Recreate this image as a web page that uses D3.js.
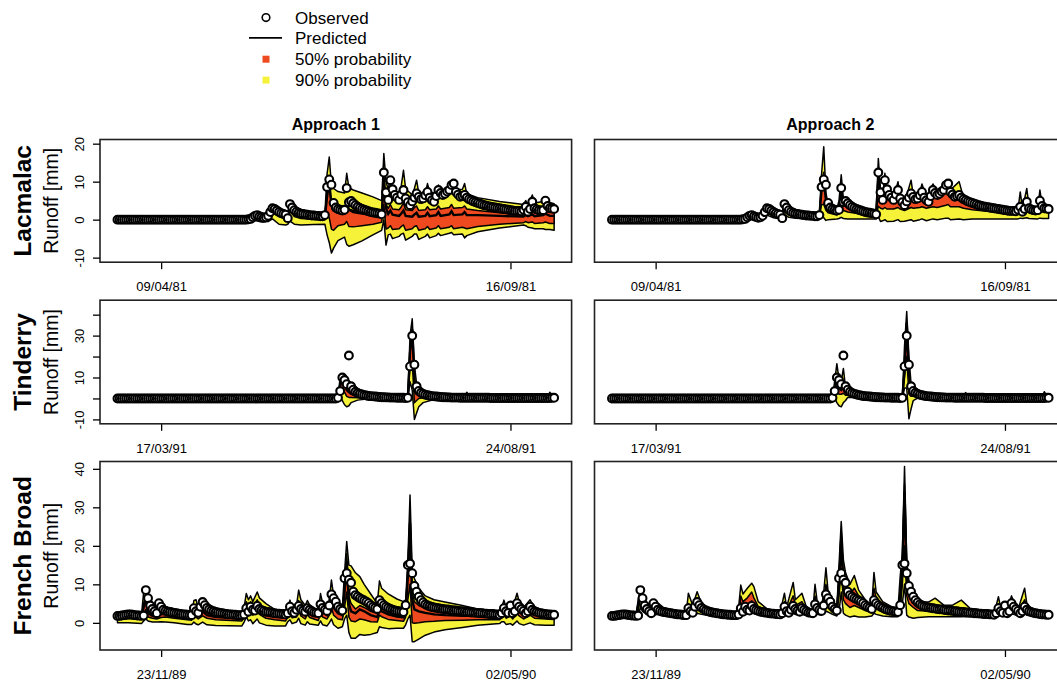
<!DOCTYPE html>
<html>
<head>
<meta charset="utf-8">
<script src="https://cdn.jsdelivr.net/npm/d3@7"></script>
<style>
body { margin: 0; background: #fff; }
svg { display: block; font-family: "Liberation Sans", Arial, Helvetica, sans-serif; }
</style>
</head>
<body>
<svg id="chart" width="1057" height="683"></svg>
<script>
const stations = ["Lacmalac", "Tinderry", "French Broad"];
const approaches = ["Approach 1", "Approach 2"];
const startDates = ["1981-03-20", "1991-02-25", "1989-11-03"];
const tickDays = [20, 180];
const yDomains = [[-11.2, 21.1], [-12.1, 46.9], [-7.05, 41.9]];
const yTickValues = [[-10, 0, 10, 20], [-10, 0, 10, 20, 30, 40], [0, 10, 20, 30, 40]];
const yTickShown = [[-10, 0, 10, 20], [-10, 10, 30], [0, 10, 20, 30, 40]];
const legendLabels = ["Observed", "Predicted", "50% probability", "90% probability"];

// observed daily runoff [mm], one value per day from the start date
const obsLacmalac = [
  0,0,0,0,0,0,0,0,0,0, 0,0,0,0,0,0,0,0,0,0, 0,0,0,0,0,0,0,0,0,0,
  0,0,0,0,0,0,0,0,0,0, 0,0,0,0,0,0,0,0,0,0, 0,0,0,0,0,0,0,0,0,0,
  0.1,0.2,0.6,1.0,1.2,0.9,0.7,0.5,0.6,1.0,
  2.0,3.0,2.8,2.4,2.0,1.7,1.5,1.3,0.4,4.1,
  3.2,2.5,2.1,1.8,1.6,1.5,1.4,1.3,1.2,1.1,
  1.1,1.0,1.0,0.9,0.9,1.2,8.6,10.6,9.2,4.4,
  3.2,2.8,2.6,2.4,2.6,8.3,4.6,4.9,4.3,3.8,
  3.4,3.1,2.8,2.6,2.4,2.2,2.0,1.9,1.8,1.7,
  1.6,1.4,12.4,7.2,5.2,10.4,8.0,6.5,5.8,5.2,
  6.6,7.8,5.6,4.6,3.8,4.8,5.8,6.9,6.0,5.4,
  5.6,6.4,7.3,5.8,5.1,4.7,6.2,7.8,7.0,6.5,
  6.8,7.4,7.8,9.1,9.5,7.3,6.6,6.0,6.2,6.5,
  5.8,5.4,5.1,4.8,4.6,4.4,4.2,4.0,3.8,3.7,
  3.5,3.4,3.3,3.2,3.1,3.0,2.9,2.8,2.7,2.6,
  2.5,2.4,2.3,2.3,2.3,2.2,2.6,3.4,2.1,2.8,
  4.7,3.0,2.7,2.5,2.4,2.5,5.0,3.6,3.0,2.9,
  2.8
];
const obsTinderry = [
  0,0,0,0,0,0,0,0,0,0, 0,0,0,0,0,0,0,0,0,0, 0,0,0,0,0,0,0,0,0,0,
  0,0,0,0,0,0,0,0,0,0, 0,0,0,0,0,0,0,0,0,0, 0,0,0,0,0,0,0,0,0,0,
  0,0,0,0,0,0,0,0,0,0, 0,0,0,0,0,0,0,0,0,0, 0,0,0,0,0,0,0,0,0,0,
  0,0,0,0,0,0,0,0,0,0, 0,
  0.3,3.5,10.0,8.8,6.8,20.5,5.8,4.2,3.2,2.6,
  2.2,1.9,1.6,1.4,1.2,1.1,1.0,0.9,0.8,0.7,
  0.6,0.6,0.5,0.5,0.4,0.4,0.4,0.3,0.3,0.3,
  0.3,0.2,0.3,15.3,29.9,16.1,5.8,3.6,2.7,2.2,
  1.8,1.5,1.3,1.1,1.0,0.9,0.8,0.7,0.6,0.6,
  0.5,0.5,0.4,0.4,0.4,0.4,0.3,0.3,0.3,0.3,
  0.3,0.3,0.3,0.3,0.3,0.3,0.3,0.3,0.3,0.3,
  0.2,0.2,0.2,0.2,0.2,0.2,0.2,0.2,0.2,0.2,
  0.2,0.2,0.2,0.2,0.2,0.2,0.2,0.2,0.2,0.2,
  0.2,0.2,0.2,0.2,0.2,0.2,0.2,0.2,0.3,0.3
];
const obsFrenchBroad = [
  1.8,1.8,1.9,2.0,2.1,2.2,2.2,2.1,2.0,1.9,1.9,1.8,
  1.9,8.5,6.4,4.5,3.6,3.0,2.5,5.1,4.2,3.4,
  3.1,2.9,2.8,2.7,2.6,2.5,2.4,2.3,2.2,2.2,
  2.1,2.0,2.0,3.8,3.0,2.6,4.2,5.4,4.6,3.9,
  3.5,3.2,3.0,2.8,2.7,2.6,2.5,2.4,2.3,2.2,
  2.2,2.1,2.1,2.0,2.0,2.0,2.2,3.8,2.9,4.2,
  3.4,3.2,4.4,3.6,3.3,3.1,2.9,2.8,2.7,2.6,
  2.5,2.4,2.4,2.3,2.3,2.2,2.5,4.2,3.0,2.6,
  3.4,4.4,3.6,3.2,2.9,3.8,3.4,3.0,2.7,2.6,
  2.5,4.8,3.9,3.4,3.1,4.5,7.4,6.4,5.5,4.2,
  3.6,3.2,11.6,12.9,11.2,10.4,8.1,7.2,6.8,6.4,
  6.1,5.8,5.5,5.1,4.6,4.2,3.9,3.6,5.9,5.1,
  4.6,4.2,3.9,3.6,3.4,3.2,3.1,3.0,2.9,2.8,
  4.6,15.0,15.4,12.9,9.6,8.1,6.8,5.9,5.3,4.8,
  4.5,4.3,4.1,4.0,3.9,3.8,3.7,3.6,3.5,3.5,
  3.4,3.3,3.2,3.2,3.1,3.0,3.0,2.9,2.8,2.8,
  2.7,2.7,2.6,2.6,2.5,2.5,2.4,2.4,2.3,2.3,
  2.3,2.2,2.2,2.1,2.5,3.8,3.0,2.6,4.5,2.5,
  3.0,5.1,4.2,3.6,3.1,2.5,3.0,4.2,3.4,3.0,
  2.8,2.6,2.5,2.4,2.3,2.2,2.2,2.1,2.1
];

// predictive keyframes: [day, predicted, lower 90%, lower 50%, upper 50%, upper 90%]
const bandLacmalacA1 = [
  [0,0,0,0,0,0],[59,0,0,0,0,0],[61,0.2,-0.1,0.1,0.3,0.4],[63,0.9,-0.2,0.5,1.1,1.4],
  [66,0.6,-0.6,0.2,0.8,1.2],[69,0.9,-0.5,0.4,1.2,1.6],[71,2.8,0.2,1.8,3.0,3.6],
  [74,1.8,-1.2,0.8,2.0,2.5],[77,1.2,-1.4,0.3,1.4,1.8],[78,0.8,-1.2,0.1,1.0,1.4],
  [79,3.6,-0.4,2.2,3.8,4.5],[81,2.2,-1.2,0.8,2.4,3.2],[84,1.5,-1.4,0.3,1.8,2.4],
  [90,1.0,-1.3,0.1,1.2,1.6],[95,0.8,-1.2,0.0,1.0,1.4],[96,6.0,-4.0,1.5,8.0,12.0],
  [97,10.0,-6.0,0.5,10.0,16.5],[98,3.8,-8.8,-2.5,3.5,9.0],[99,2.4,-7.5,-2.8,2.8,8.2],
  [101,1.8,-5.5,-1.6,2.6,7.4],[104,1.6,-4.6,-1.2,2.4,7.0],[105,4.5,-6.5,-0.5,4.5,12.2],
  [106,2.6,-7.0,-1.8,2.8,8.4],[108,2.0,-6.6,-1.9,2.4,7.8],[112,1.6,-5.6,-1.6,2.2,7.0],
  [117,1.2,-4.0,-1.2,1.8,6.0],[121,0.9,-2.8,-0.7,1.4,5.0],[122,11.0,0.0,4.0,12.0,17.4],
  [123,3.0,-6.7,-2.5,4.0,10.0],[124,1.5,-4.0,-2.2,3.0,8.0],[125,2.4,-3.8,-1.6,4.0,11.0],
  [126,1.3,-5.0,-2.6,2.8,8.0],[129,1.0,-4.4,-2.4,2.6,7.0],[130,1.6,-3.8,-1.8,3.4,9.0],
  [131,2.4,-3.6,-1.4,4.4,13.0],[132,1.0,-5.4,-2.8,2.6,8.0],[135,0.8,-4.4,-2.4,2.4,6.6],
  [136,1.4,-3.8,-1.8,3.2,8.2],[137,1.8,-3.8,-1.6,3.6,10.4],[138,0.8,-5.2,-2.8,2.4,7.0],
  [141,1.0,-4.4,-2.4,2.6,7.0],[142,1.8,-3.8,-1.8,3.4,9.5],[143,0.9,-4.8,-2.6,2.6,7.2],
  [146,1.2,-4.2,-2.2,2.8,7.0],[147,2.0,-3.6,-1.6,3.6,9.1],[148,1.0,-4.2,-2.4,2.8,7.4],
  [152,1.4,-3.6,-2.0,3.2,8.0],[153,2.2,-3.4,-1.6,4.0,10.0],[154,1.2,-4.0,-2.4,3.0,7.8],
  [158,1.4,-3.8,-2.0,3.2,8.0],[159,2.0,-4.8,-2.2,3.6,9.5],[160,1.2,-4.2,-2.4,2.8,6.8],
  [165,1.2,-3.2,-1.8,2.4,5.8],[175,1.0,-2.2,-1.2,1.8,4.8],[186,0.8,-1.4,-0.8,1.4,4.0],
  [187,1.2,-1.6,-0.5,2.2,5.0],[188,0.9,-2.0,-0.8,1.6,3.8],[190,1.4,-2.2,-0.6,2.6,6.5],
  [191,0.9,-2.4,-1.0,1.8,4.4],[195,1.2,-2.4,-0.8,2.2,4.8],[196,1.6,-2.6,-0.6,2.8,6.0],
  [198,1.0,-2.6,-1.0,2.0,4.5],[200,1.0,-2.8,-1.0,2.0,4.2]
];
const bandLacmalacA2 = [
  [0,0,0,0,0,0],[59,0,0,0,0,0],[61,0.2,0.0,0.1,0.3,0.4],[63,1.0,0.2,0.5,1.1,1.3],
  [66,0.6,0.1,0.3,0.7,0.9],[69,1.0,0.3,0.6,1.1,1.3],[71,3.0,1.2,2.0,3.2,3.6],
  [74,1.8,0.5,1.0,2.0,2.2],[78,0.6,0.1,0.3,0.7,0.9],[79,4.0,1.4,2.8,4.3,4.8],
  [81,2.4,0.6,1.4,2.6,2.9],[84,1.6,0.4,0.9,1.8,2.0],[95,1.0,0.2,0.6,1.1,1.3],
  [96,8.0,1.5,4.0,9.0,12.0],[97,11.0,0.5,4.0,12.5,19.2],[98,5.0,-0.2,2.5,5.5,7.0],
  [99,3.6,0.0,1.8,3.9,4.3],[103,2.4,0.2,1.2,2.6,2.9],[104,3.5,0.3,1.8,4.0,5.0],
  [105,7.0,0.6,3.0,8.5,11.8],[106,4.5,0.3,2.4,4.9,5.4],[108,3.8,0.2,2.0,4.1,4.4],
  [121,1.5,0.2,0.8,1.7,1.9],[122,11.0,0.8,3.5,12.5,16.1],[123,6.5,-0.5,3.0,7.0,7.8],
  [124,5.2,-0.3,2.8,5.6,6.0],[125,9.0,0.0,3.2,9.8,12.2],[126,6.0,-0.5,2.8,6.4,6.8],
  [129,5.0,-0.4,2.8,5.3,5.6],[131,7.0,0.0,3.2,7.6,10.0],[132,5.2,-0.5,2.8,5.5,5.9],
  [134,3.8,-0.4,2.4,4.1,4.4],[137,6.5,0.0,3.2,7.0,10.4],[138,5.6,-0.4,3.0,5.9,6.3],
  [141,6.2,0.0,3.2,6.6,7.2],[142,7.0,0.2,3.4,7.5,9.4],[144,5.0,-0.3,3.0,5.3,5.7],
  [147,7.4,0.2,3.4,7.9,9.4],[149,6.2,0.0,3.2,6.6,7.0],[153,8.6,0.4,3.8,9.2,10.4],
  [154,9.0,0.4,4.0,9.4,9.8],[155,7.0,0.0,3.4,7.4,7.8],[159,6.2,0.2,3.4,6.6,10.0],
  [161,5.2,0.0,3.0,5.5,5.8],[165,4.2,0.2,2.6,4.4,4.7],[175,3.0,0.2,2.0,3.2,3.4],
  [186,2.4,0.2,1.6,2.6,2.8],[187,3.2,0.4,2.2,3.8,7.3],[188,2.4,0.3,1.6,2.6,2.9],
  [190,4.4,0.5,2.8,5.0,8.2],[191,3.0,0.3,2.0,3.2,3.5],[195,2.5,0.2,1.7,2.7,2.9],
  [196,4.6,0.4,2.8,5.2,7.8],[197,3.4,0.3,2.2,3.6,3.9],[200,2.8,0.3,1.9,3.0,3.2]
];
const bandTinderryA1 = [
  [0,0,0,0,0,0],[100,0,0,0,0,0],[101,0.5,-0.5,0.0,0.6,1.0],[102,6.0,1.0,4.0,8.0,10.0],
  [103,8.5,-1.0,5.0,9.5,11.5],[104,7.0,-3.0,3.0,8.0,11.0],[105,4.0,-4.0,1.0,5.0,8.0],
  [106,3.0,-3.5,0.5,3.5,5.0],[107,2.2,-2.0,0.5,2.5,3.5],[110,1.2,-0.8,0.3,1.5,2.0],
  [115,0.6,-0.2,0.2,0.7,1.0],[125,0.3,0.0,0.1,0.4,0.5],[133,0.2,0.0,0.1,0.3,0.4],
  [134,22.0,8.0,15.0,24.0,30.0],[135,33.0,4.0,18.0,34.0,38.0],[136,8.0,-10.0,-2.0,10.0,16.0],
  [137,3.0,-7.0,-1.0,4.0,7.0],[138,2.0,-4.0,0.0,2.5,4.0],[140,1.4,-2.0,0.3,1.8,2.6],
  [145,0.8,-0.5,0.2,1.0,1.3],[150,0.5,0.0,0.2,0.6,0.8],[159,0.3,0.1,0.2,0.4,0.5],
  [160,1.2,0.4,0.8,1.8,3.0],[161,0.6,0.2,0.4,0.8,1.2],[165,0.3,0.1,0.2,0.4,0.5],
  [197,0.3,0.1,0.2,0.4,0.5],[198,1.2,0.4,0.8,1.8,3.0],[199,0.8,0.2,0.5,1.0,1.5],
  [200,0.4,0.1,0.2,0.5,0.7]
];
const bandTinderryA2 = [
  [0,0,0,0,0,0],[100,0,0,0,0,0],[101,0.5,0.0,0.2,0.6,1.0],[102,3.0,0.5,2.0,5.0,8.0],
  [103,7.0,-2.0,3.0,9.0,16.6],[104,5.0,-3.5,2.0,6.0,9.0],[105,4.0,-4.0,2.0,5.0,8.0],
  [106,5.0,-2.0,2.5,7.0,14.3],[107,3.0,-1.0,1.5,3.5,5.0],[108,2.2,0.5,1.5,2.5,3.0],
  [110,1.4,0.6,1.0,1.6,1.9],[115,0.7,0.3,0.5,0.8,1.0],[133,0.2,0.0,0.1,0.3,0.4],
  [134,14.0,5.0,10.0,16.0,25.0],[135,36.0,5.0,20.0,36.0,41.5],[136,12.0,-9.7,2.0,14.0,20.0],
  [137,4.0,-5.0,1.0,5.0,7.0],[138,2.6,-1.0,1.0,3.0,4.0],[140,1.8,0.2,1.0,2.0,2.4],
  [145,1.0,0.4,0.8,1.1,1.3],[150,0.6,0.2,0.4,0.7,0.8],[161,0.3,0.1,0.2,0.4,0.5],
  [162,1.2,0.4,0.8,1.8,2.8],[163,0.6,0.2,0.4,0.8,1.2],[167,0.3,0.1,0.2,0.4,0.5],
  [197,0.3,0.1,0.2,0.4,0.5],[198,1.4,0.4,0.8,2.0,3.2],[199,0.8,0.2,0.5,1.0,1.5],
  [200,0.4,0.1,0.2,0.5,0.7]
];
const bandFrenchBroadA1 = [
  [0,1.7,0.0,1.0,1.8,2.0],[5,1.9,0.0,1.1,2.0,2.2],[11,1.7,-0.2,1.0,1.8,2.0],
  [12,4.0,0.5,2.0,5.0,8.0],[13,6.5,1.0,3.5,7.0,8.5],[14,2.5,0.5,1.5,3.0,4.0],
  [16,1.8,0.2,1.2,2.2,3.0],[18,1.5,0.2,1.0,2.0,2.8],[20,2.2,0.3,1.4,2.6,3.8],
  [22,2.4,0.2,1.5,2.8,4.2],[26,2.0,0.0,1.2,2.4,3.6],[32,1.4,-0.4,0.8,1.8,2.4],
  [34,1.3,-0.4,0.7,1.7,2.2],[35,3.0,0.2,2.0,4.0,5.8],[36,2.4,-0.3,1.5,3.5,6.0],
  [37,1.8,-0.5,1.0,2.4,3.5],[39,3.0,0.2,1.8,4.0,5.2],[41,2.0,-0.5,1.2,2.8,4.0],
  [45,1.5,-0.7,0.8,2.0,3.0],[57,1.2,-0.8,0.5,1.6,2.2],[58,2.2,0.2,1.5,3.0,4.0],
  [59,4.5,1.5,3.2,5.5,7.6],[60,3.5,0.5,2.4,4.5,6.0],[61,4.5,0.8,3.0,5.5,7.0],
  [62,3.2,-0.2,2.0,4.0,5.5],[64,4.8,1.0,3.2,6.0,8.0],[65,3.5,0.0,2.2,4.8,6.5],
  [68,2.5,-0.6,1.2,3.2,5.0],[72,1.8,-0.8,0.8,2.4,3.5],[77,1.4,-0.8,0.5,1.8,2.6],
  [78,2.5,0.3,1.5,3.0,4.0],[79,3.8,0.8,2.6,4.5,5.9],[80,2.2,-0.2,1.3,2.8,3.8],
  [82,2.2,0.2,1.5,3.0,4.5],[83,4.5,1.2,3.2,5.8,8.5],[84,3.0,-0.2,1.8,4.0,6.0],
  [86,2.0,-0.6,1.0,2.8,4.5],[87,3.5,0.3,2.2,4.5,5.8],[88,2.5,-0.3,1.4,3.2,4.6],
  [92,1.6,-0.6,0.6,2.0,3.0],[93,4.0,0.5,2.5,5.5,7.6],[94,2.8,-0.5,1.5,3.5,5.0],
  [96,2.0,-0.8,1.0,2.6,3.6],[97,3.5,0.0,2.0,4.5,6.0],[98,6.5,1.0,4.0,8.0,11.1],
  [99,4.0,-0.5,2.0,5.0,7.0],[101,2.5,-1.4,1.0,3.5,5.0],[103,2.0,-1.0,0.8,2.8,4.0],
  [104,8.0,1.0,4.0,10.0,13.0],[105,16.0,2.0,8.0,18.0,21.1],[106,5.0,-2.5,1.5,7.0,15.0],
  [107,3.0,-4.0,0.5,5.0,14.8],[109,2.5,-4.0,0.3,3.6,13.0],[111,3.5,-3.0,1.0,4.5,12.0],
  [113,3.0,-3.2,0.8,4.0,10.0],[116,2.0,-3.0,0.3,3.0,7.5],[119,1.5,-2.5,0.2,2.4,5.0],
  [120,3.5,-1.0,2.0,6.0,10.9],[121,3.0,-1.2,1.6,5.0,9.0],[124,2.2,-1.5,0.9,3.2,7.5],
  [128,1.6,-1.4,0.6,2.2,6.2],[131,1.4,-1.4,0.4,2.0,5.5],[132,3.0,-0.5,1.5,4.0,6.0],
  [133,12.0,1.0,6.0,14.0,16.0],[134,26.0,2.0,10.0,28.0,33.2],[135,6.0,-4.9,0.0,8.0,13.3],
  [136,3.5,-4.9,-0.1,5.5,11.5],[138,3.0,-4.2,0.0,4.5,9.0],[141,2.6,-3.2,0.3,3.8,7.0],
  [145,2.2,-2.4,0.4,3.2,6.0],[150,2.0,-1.8,0.6,2.8,5.4],[158,1.8,-1.2,0.7,2.4,4.5],
  [165,1.8,-0.6,0.8,2.2,3.6],[175,1.6,-0.2,0.8,2.0,3.0],[176,2.5,0.3,1.5,3.0,4.0],
  [177,3.5,0.3,2.2,4.5,5.9],[178,2.2,-0.4,1.2,2.8,4.0],[180,3.0,-0.2,1.8,4.0,5.5],
  [181,2.0,-0.6,1.0,2.6,3.8],[183,3.8,0.5,2.5,5.0,7.7],[184,3.0,-0.2,1.8,4.0,5.5],
  [186,2.2,-0.6,1.0,2.8,4.0],[189,3.4,0.0,2.0,4.4,6.0],[191,2.2,-0.5,1.2,2.8,3.8],
  [196,1.8,-0.6,1.0,2.2,3.0],[200,1.6,-0.6,0.9,2.0,2.6]
];
const bandFrenchBroadA2 = [
  [0,1.8,1.4,1.6,1.9,2.0],[11,1.8,1.4,1.6,1.9,2.0],[12,4.5,1.5,3.0,5.0,6.0],
  [13,7.5,4.0,6.5,8.2,8.8],[14,5.0,3.0,4.5,5.5,6.5],[16,3.2,2.2,2.8,3.6,4.2],
  [19,3.4,2.0,2.8,4.0,4.8],[21,3.6,2.2,3.0,4.2,5.2],[24,2.8,1.8,2.4,3.2,3.8],
  [34,2.0,1.5,1.8,2.2,2.4],[35,3.6,2.0,3.0,5.0,7.7],[37,2.8,1.8,2.4,3.4,4.5],
  [39,4.8,2.5,4.0,6.5,8.1],[41,3.6,2.2,3.0,4.2,5.0],[46,2.6,1.8,2.3,2.9,3.2],
  [57,2.0,1.5,1.8,2.2,2.4],[58,2.5,1.8,2.2,3.0,4.0],[59,5.0,2.5,4.0,7.0,9.8],
  [60,4.0,2.2,3.5,5.5,7.5],[62,4.5,2.5,3.8,6.5,9.0],[64,5.5,2.8,4.5,8.0,10.3],
  [65,4.5,2.5,3.8,6.5,9.4],[67,3.5,2.2,3.0,4.2,5.5],[72,2.6,2.0,2.4,2.9,3.2],
  [77,2.2,1.8,2.0,2.4,2.6],[79,4.0,2.2,3.2,5.5,7.7],[80,2.8,2.0,2.5,3.2,4.0],
  [83,4.6,2.4,3.8,7.0,10.5],[84,3.5,2.2,3.0,4.5,6.0],[87,3.8,2.2,3.2,5.5,7.7],
  [89,2.9,2.0,2.6,3.4,4.2],[92,2.5,2.0,2.3,2.8,3.2],[93,5.0,2.5,4.0,7.0,10.0],
  [94,3.8,2.2,3.2,4.6,5.5],[96,3.0,2.0,2.6,3.4,4.0],[97,4.5,2.5,3.8,6.0,8.0],
  [98,7.4,3.0,6.0,10.0,14.3],[99,6.0,2.8,5.0,7.0,8.0],[101,4.2,2.2,3.5,4.8,5.5],
  [103,3.2,1.8,2.8,3.6,4.0],[104,10.0,3.0,7.0,12.0,15.0],[105,22.0,8.0,14.0,24.0,26.3],
  [106,9.0,2.5,6.0,12.0,16.3],[107,7.0,2.0,5.0,9.0,13.0],[109,6.2,1.5,4.0,7.5,10.0],
  [111,6.6,1.8,4.5,9.0,12.3],[113,5.5,1.5,4.0,7.0,8.5],[116,4.2,1.5,3.2,5.0,6.0],
  [119,3.5,1.8,2.8,4.0,4.5],[120,6.5,2.5,5.0,9.0,13.1],[121,5.2,2.2,4.0,6.5,8.0],
  [124,3.8,1.8,3.0,4.5,5.5],[128,3.0,1.6,2.5,3.5,4.2],[131,2.8,1.6,2.4,3.2,3.6],
  [132,5.0,2.5,4.0,8.0,12.0],[133,14.0,5.0,10.0,16.0,18.0],[134,34.0,10.0,20.0,36.0,40.6],
  [135,12.0,2.0,7.0,14.0,16.0],[136,7.0,1.5,5.0,9.0,11.0],[138,5.5,1.2,4.0,6.5,7.5],
  [140,4.2,1.4,3.2,4.8,5.4],[145,3.6,1.6,3.0,4.2,5.4],[148,3.4,1.6,2.8,4.2,6.4],
  [152,3.0,1.6,2.6,3.6,4.6],[156,2.8,1.6,2.4,3.4,4.6],[160,2.8,1.6,2.4,3.6,5.9],
  [164,2.6,1.7,2.3,3.0,3.8],[175,2.2,1.6,2.0,2.4,2.6],[176,3.0,2.0,2.6,3.6,4.5],
  [177,3.8,2.2,3.2,5.0,6.8],[178,2.8,2.0,2.5,3.2,4.0],[180,3.6,2.2,3.0,4.5,5.5],
  [181,2.6,1.8,2.3,3.0,3.6],[183,4.5,2.4,3.6,6.0,7.0],[184,3.6,2.2,3.0,4.5,5.5],
  [186,2.6,1.8,2.3,3.0,3.5],[189,4.2,2.4,3.4,6.0,9.0],[190,3.2,2.0,2.8,4.0,5.0],
  [193,2.5,1.8,2.3,2.8,3.2],[200,2.1,1.6,1.9,2.3,2.5]
];

const observed = [obsLacmalac, obsTinderry, obsFrenchBroad];
const bands = [
  [bandLacmalacA1, bandLacmalacA2],
  [bandTinderryA1, bandTinderryA2],
  [bandFrenchBroadA1, bandFrenchBroadA2]
];

//layout
const colLeft = [100, 594.5];
const panelW = 471.6;
const rowTop = [139.5, 300.2, 461.5];
const rowBottom = [262.2, 423.8, 650];
const yellow = "#f6f23a", red = "#ef4a1f";

const svg = d3.select("#chart");
const parseDate = d3.utcParse("%Y-%m-%d");
const fmt = d3.utcFormat("%d/%m/%y");

stations.forEach((station, r) => {
  const start = parseDate(startDates[r]);
  const day = i => new Date(start.getTime() + i * 864e5);

  const y = d3.scaleLinear()
      .domain(yDomains[r])
      .range([rowBottom[r], rowTop[r]]);

  approaches.forEach((approach, c) => {
    const x = d3.scaleUtc()
        .domain([day(-8), day(208)])
        .range([colLeft[c], colLeft[c] + panelW]);

    const clipId = `clip-${r}-${c}`;
    svg.append("clipPath").attr("id", clipId)
      .append("rect")
        .attr("x", colLeft[c]).attr("y", rowTop[r])
        .attr("width", panelW).attr("height", rowBottom[r] - rowTop[r]);

    const g = svg.append("g").attr("clip-path", `url(#${clipId})`);
    const band = bands[r][c];
    const bx = d => x(day(d[0]));

    //90% then 50% polygons, black outline
    g.append("path").datum(band)
        .attr("d", d3.area().x(bx).y0(d => y(d[2])).y1(d => y(d[5])))
        .attr("fill", yellow).attr("stroke", "#000")
        .attr("stroke-width", 1.5).attr("stroke-linejoin", "round");
    g.append("path").datum(band)
        .attr("d", d3.area().x(bx).y0(d => y(d[3])).y1(d => y(d[4])))
        .attr("fill", red).attr("stroke", "#000")
        .attr("stroke-width", 1.5).attr("stroke-linejoin", "round");

    //predicted
    g.append("path").datum(band)
        .attr("d", d3.line().x(bx).y(d => y(d[1])))
        .attr("fill", "none").attr("stroke", "#000").attr("stroke-width", 2.4);

    //observed
    g.selectAll("circle")
      .data(observed[r])
      .join("circle")
        .attr("cx", (d, i) => x(day(i)))
        .attr("cy", d => y(d))
        .attr("r", 3.9)
        .attr("fill", "#fff").attr("stroke", "#000").attr("stroke-width", 2.1);

    // x axis
    svg.append("g")
        .attr("transform", `translate(0,${rowBottom[r]})`)
        .call(d3.axisBottom(x)
          .tickValues(tickDays.map(day))
          .tickFormat(fmt)
          .tickSize(7)
          .tickPadding(13))
        .attr("font-family", null).attr("font-size", 13)
        .call(a => a.select(".domain").remove())
        .call(a => a.selectAll("line").attr("stroke-width", 1.3));

    // box
    svg.append("rect")
        .attr("x", colLeft[c]).attr("y", rowTop[r])
        .attr("width", panelW).attr("height", rowBottom[r] - rowTop[r])
        .attr("fill", "none").attr("stroke", "#222").attr("stroke-width", 1.6);

    if (r === 0) {
      svg.append("text")
          .attr("x", colLeft[c] + panelW / 2).attr("y", 129.5)
          .attr("text-anchor", "middle")
          .attr("font-weight", "bold").attr("font-size", 16)
          .text(approach);
    }
  });

  // y axis, left column only
  svg.append("g")
      .attr("transform", `translate(${colLeft[0]},0)`)
      .call(d3.axisLeft(y)
        .tickValues(yTickValues[r])
        .tickFormat(d => yTickShown[r].includes(d) ? d : "")
        .tickSize(7))
      .attr("font-family", null).attr("font-size", 13)
      .call(a => a.select(".domain").remove())
      .call(a => a.selectAll("line").attr("stroke-width", 1.3))
      .call(a => a.selectAll("text")
        .attr("x", 0).attr("dy", 0)
        .attr("text-anchor", "middle")
        .attr("transform", "translate(-16,0) rotate(-90)"));

  const midY = (rowTop[r] + rowBottom[r]) / 2;
  svg.append("text")
      .attr("transform", `translate(31,${midY}) rotate(-90)`)
      .attr("text-anchor", "middle")
      .attr("font-weight", "bold").attr("font-size", 24.5)
      .text(station);
  svg.append("text")
      .attr("transform", `translate(58,${midY}) rotate(-90)`)
      .attr("text-anchor", "middle")
      .attr("font-size", 19.5)
      .text("Runoff [mm]");
});

//legend
const legY = [17.6, 37.9, 59.2, 80.1];
const leg = svg.append("g");
leg.append("circle").attr("cx", 266).attr("cy", legY[0]).attr("r", 3.8)
    .attr("fill", "#fff").attr("stroke", "#000").attr("stroke-width", 1.6);
leg.append("line").attr("x1", 249).attr("x2", 282).attr("y1", legY[1]).attr("y2", legY[1])
    .attr("stroke", "#000").attr("stroke-width", 1.6);
leg.append("rect").attr("x", 262.5).attr("y", legY[2] - 3.5).attr("width", 7).attr("height", 7)
    .attr("fill", red);
leg.append("rect").attr("x", 262.5).attr("y", legY[3] - 3.5).attr("width", 7).attr("height", 7)
    .attr("fill", yellow);
leg.selectAll("text.lab")
  .data(legendLabels)
  .join("text")
    .attr("class", "lab")
    .attr("x", 295)
    .attr("y", (d, i) => legY[i] + 6)
    .attr("font-size", 17)
    .text(d => d);
</script>
</body>
</html>
